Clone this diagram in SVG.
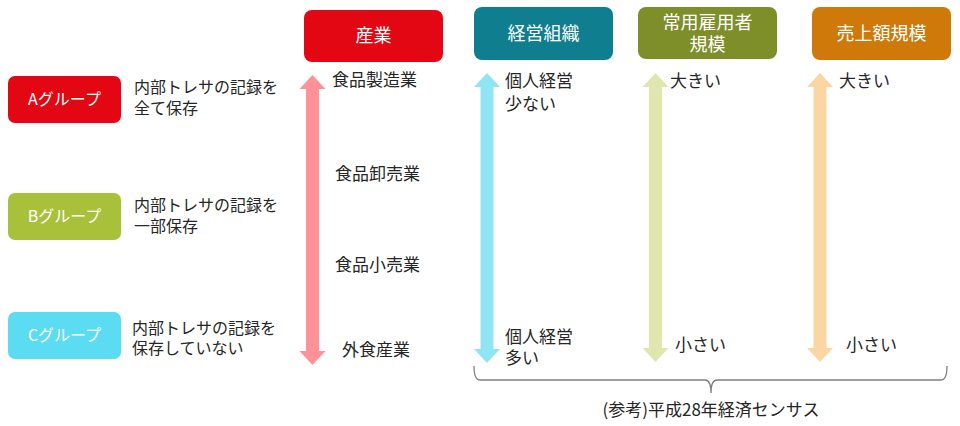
<svg xmlns="http://www.w3.org/2000/svg" width="960" height="426" viewBox="0 0 960 426">
<style>
text{font-family:"Noto Sans CJK JP","Noto Sans",sans-serif;fill:#262626}
.w{fill:#ffffff;text-anchor:middle}
.t16{font-size:16px}
.t17{font-size:17px}
.t18{font-size:18px}
.br{fill:none;stroke:#7f7f7f;stroke-width:1.3}
</style>
<rect width="960" height="426" fill="#ffffff"/>
<g id="groupA">
<rect x="8" y="76" width="113" height="47" rx="7" fill="#e30613"/>
<text class="w t16" x="64.5" y="105">Aグループ</text>
<text class="t16" x="134" y="93">内部トレサの記録を<tspan x="134" dy="21">全て保存</tspan></text>
</g>
<g id="groupB">
<rect x="8" y="193" width="113" height="47" rx="7" fill="#a9c13a"/>
<text class="w t16" x="64.5" y="222">Bグループ</text>
<text class="t16" x="134" y="211">内部トレサの記録を<tspan x="134" dy="21">一部保存</tspan></text>
</g>
<g id="groupC">
<rect x="8" y="312" width="113" height="47" rx="7" fill="#5bdcf2"/>
<text class="w t16" x="64.5" y="341">Cグループ</text>
<text class="t16" x="132" y="334">内部トレサの記録を<tspan x="132" dy="20">保存していない</tspan></text>
</g>
<g id="industry">
<rect x="304" y="10" width="139" height="52" rx="8" fill="#e30613"/>
<text class="w t18" x="373.5" y="42">産業</text>
<text class="t17" x="332" y="86">食品製造業</text>
<text class="t17" x="335" y="180">食品卸売業</text>
<text class="t17" x="335" y="271">食品小売業</text>
<text class="t17" x="342" y="356">外食産業</text>
</g>
<g id="organization">
<rect x="474" y="7" width="139" height="53" rx="8" fill="#0f7f8f"/>
<text class="w t18" x="543.5" y="40">経営組織</text>
<text class="t17" x="505" y="87">個人経営<tspan x="505" dy="23">少ない</tspan></text>
<text class="t17" x="505" y="343">個人経営<tspan x="505" dy="21">多い</tspan></text>
</g>
<g id="employees">
<rect x="638" y="7" width="139" height="52" rx="8" fill="#7e8f2a"/>
<text class="w t18" x="707.5" y="29">常用雇用者<tspan x="707.5" dy="22">規模</tspan></text>
<text class="t17" x="670" y="87">大きい</text>
<text class="t17" x="675" y="351">小さい</text>
</g>
<g id="sales">
<rect x="812" y="7" width="139" height="53" rx="8" fill="#cf790a"/>
<text class="w t18" x="881.5" y="40">売上額規模</text>
<text class="t17" x="839" y="87">大きい</text>
<text class="t17" x="846" y="351">小さい</text>
</g>
<g id="connectors">
<polygon fill="#ff9198" points="312.5,75 325.5,89 319,89 319,351 325.5,351 312.5,365 299.5,351 306,351 306,89 299.5,89"/>
<polygon fill="#90e5f5" points="487,73 500,87 493.5,87 493.5,349 500,349 487,363 474,349 480.5,349 480.5,87 474,87"/>
<polygon fill="#dfe7ae" points="655.5,73 668.5,87 662,87 662,348 668.5,348 655.5,362 642.5,348 649,348 649,87 642.5,87"/>
<polygon fill="#fbd6a3" points="820,73 833,87 826.5,87 826.5,348 833,348 820,362 807,348 813.5,348 813.5,87 807,87"/>
<path class="br" d="M474,366 Q474,380 480,380 H705 Q711,380 711,393 Q711,380 717,380 H941 Q947,380 947,366"/>
</g>
<text class="t17" x="711" y="416" text-anchor="middle">(参考)平成28年経済センサス</text>
</svg>
